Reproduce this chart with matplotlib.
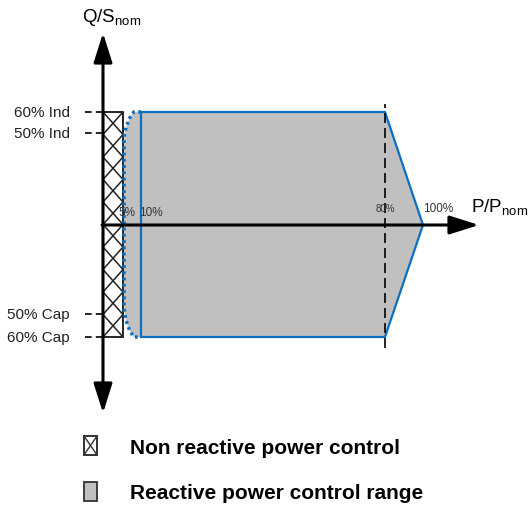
import numpy as np
import matplotlib.pyplot as plt
from matplotlib.patches import Polygon, Rectangle
from matplotlib.transforms import IdentityTransform

plt.rcParams['font.family'] = ['Liberation Sans', 'DejaVu Sans']

BLUE = '#0a6fc2'
GREY = '#c0c0c0'

# reactive power control range (P/Pnom %, Q/Snom %)
p_range = [10, 80, 100, 80, 10]
q_range = [60, 60, 0, -60, -60]
# soft (dotted) edge of the range between 5% and 10%
p_soft = [10, 8, 6.8, 5.9, 5.4, 5.3, 5.3, 5.4, 5.9, 6.8, 8, 10]
q_soft = [60, 60, 57, 53, 49, 45, -45, -49, -53, -57, -60, -60]
# band without reactive power control
p_nonctrl = 5
q_nonctrl = 60

q_levels = [60, 50, -50, -60]
q_labels = ['60% Ind', '50% Ind', '50% Cap', '60% Cap']
p_marks = [5, 10, 80, 100]
p_labels = ['5%', '10%', '80%', '100%']

legend_labels = ['Non reactive power control', 'Reactive power control range']

# schematic (piecewise) axis scales, knots -> pixel position
P_KNOTS = [-100, 0, 5, 10, 80, 100, 200]
P_PIX = [-87, 103, 123, 141, 385, 423, 613]
Q_KNOTS = [-200, -60, -50, 0, 50, 60, 200]
Q_PIX = [-91, 172, 195, 284, 376, 397, 660]


def px(v):
    return np.interp(v, P_KNOTS, P_PIX)


def py(v):
    return np.interp(v, Q_KNOTS, Q_PIX)


W, H = 531, 510
fig = plt.figure(figsize=(W / 100, H / 100), dpi=100)
ax = fig.add_axes([0, 0, 1, 1])
ax.set_xscale('function', functions=(px, lambda v: np.interp(v, P_PIX, P_KNOTS)))
ax.set_yscale('function', functions=(py, lambda v: np.interp(v, Q_PIX, Q_KNOTS)))
ax.set_xlim(np.interp(0, P_PIX, P_KNOTS), np.interp(W, P_PIX, P_KNOTS))
ax.set_ylim(np.interp(0, Q_PIX, Q_KNOTS), np.interp(H, Q_PIX, Q_KNOTS))
ax.axis('off')

# grey operating area: soft left edge + right-hand corners
fill_p = p_soft[1:-1] + [p_range[4], p_range[3], p_range[2], p_range[1]]
fill_q = q_soft[1:-1] + [q_range[4], q_range[3], q_range[2], q_range[1]]
ax.add_patch(Polygon(np.column_stack([fill_p, fill_q]), closed=True,
                     facecolor=GREY, edgecolor='none', zorder=1))
ax.plot(p_range + [p_range[0]], q_range + [q_range[0]], color=BLUE, lw=1.6,
        solid_joinstyle='miter', zorder=2)

# band without control: white box with one X per cell
box = Rectangle((0, -q_nonctrl), p_nonctrl, 2 * q_nonctrl, facecolor='white',
                edgecolor='black', lw=1.2, zorder=3)
ax.add_patch(box)
x0, x1 = px(0), px(p_nonctrl)
y0, y1 = py(-q_nonctrl), py(q_nonctrl)
n_cells = 10
ch = (y1 - y0) / n_cells
xs = np.array([x0, x1])
for k in range(n_cells):
    top = y1 - k * ch
    for line_y in (top - (xs - x0) * ch / (x1 - x0), top - (x1 - xs) * ch / (x1 - x0)):
        ln, = ax.plot(xs, line_y, color='#222222', lw=1.1, transform=IdentityTransform(),
                      zorder=3.5)
        ln.set_clip_path(box)

ax.plot(p_soft, q_soft, color=BLUE, lw=2.5, ls=(0, (0.8, 1.0)), zorder=4)

# 80% marker
ax.vlines(p_marks[2], -66, 64, colors='black', lw=1.2, linestyles=(0, (6, 3)), zorder=4)

# Q level ticks and labels
ax.hlines(q_levels, -9.5, 0, colors='black', lw=1.2, linestyles=(0, (4, 2.5)), zorder=4)
for q, lab in zip(q_levels, q_labels):
    ax.annotate(lab, (0, q), xytext=(-24, 0), textcoords='offset points',
                ha='right', va='center', fontsize=11, color='#222222')

# P marks
p_dx = [3, 7, 0, 0]
p_dy = [9, 9, 12, 12]
p_ha = ['center', 'center', 'center', 'left']
p_fs = [8.5, 8.5, 7, 8.5]
for p, lab, dx, dy, ha, fs in zip(p_marks, p_labels, p_dx, p_dy, p_ha, p_fs):
    ax.annotate(lab, (p, 0), xytext=(dx, dy), textcoords='offset points',
                ha=ha, va='center', fontsize=fs, color='#333333', zorder=5)

# axes with arrows, legend: pixel layout on top
lay = fig.add_axes([0, 0, 1, 1], zorder=2)
lay.set_xlim(0, W)
lay.set_ylim(H, 0)
lay.axis('off')
lay.patch.set_alpha(0)

arrow = dict(arrowstyle='<|-|>,head_length=0.6,head_width=0.19', lw=2.2,
             color='black', mutation_scale=30, shrinkA=0, shrinkB=0)
lay.annotate('', xy=(103, 34), xytext=(103, 414), arrowprops=arrow)
arrow_r = dict(arrow, arrowstyle='-|>,head_length=0.6,head_width=0.19')
lay.annotate('', xy=(479, 226), xytext=(102, 226), arrowprops=arrow_r)

lay.text(82, 17, r'Q/S$_\mathregular{nom}$', fontsize=13.5, ha='left', va='center')
lay.text(471, 208, r'P/P$_\mathregular{nom}$', fontsize=13.5, ha='left', va='center')

# legend
lay.add_patch(Rectangle((84, 437), 13, 19, facecolor='white', edgecolor='#222222', lw=1.3))
lay.plot([84, 97], [437, 456], color='#333333', lw=1)
lay.plot([84, 97], [456, 437], color='#333333', lw=1)
lay.add_patch(Rectangle((84, 483), 13, 19, facecolor=GREY, edgecolor='#333333', lw=1.3))
lay.text(130, 449, legend_labels[0], fontsize=15, fontweight='bold', va='center')
lay.text(130, 494, legend_labels[1], fontsize=15, fontweight='bold', va='center')

fig.savefig('out.png', dpi=100)
